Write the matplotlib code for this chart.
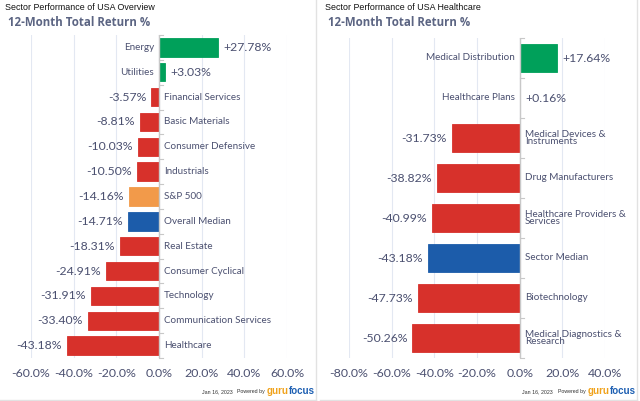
import matplotlib.pyplot as plt
from matplotlib.lines import Line2D

GREEN = "#00a05a"
RED = "#d7312b"
ORANGE = "#f29a4a"
BLUE = "#1c5caa"
TXT = "#4b5070"

usa_sectors = ["Energy", "Utilities", "Financial Services", "Basic Materials",
               "Consumer Defensive", "Industrials", "S&P 500", "Overall Median",
               "Real Estate", "Consumer Cyclical", "Technology",
               "Communication Services", "Healthcare"]
usa_returns = [27.78, 3.03, -3.57, -8.81, -10.03, -10.50, -14.16, -14.71,
               -18.31, -24.91, -31.91, -33.40, -43.18]
usa_colors = [GREEN, GREEN, RED, RED, RED, RED, ORANGE, BLUE,
              RED, RED, RED, RED, RED]
usa_ticks = [-60, -40, -20, 0, 20, 40, 60]

hc_industries = ["Medical Distribution", "Healthcare Plans",
                 "Medical Devices &\nInstruments", "Drug Manufacturers",
                 "Healthcare Providers &\nServices", "Sector Median",
                 "Biotechnology", "Medical Diagnostics &\nResearch"]
hc_returns = [17.64, 0.16, -31.73, -38.82, -40.99, -43.18, -47.73, -50.26]
hc_colors = [GREEN, GREEN, RED, RED, RED, BLUE, RED, RED]
hc_ticks = [-80, -60, -40, -20, 0, 20, 40]

plt.rcParams['font.family'] = ['Lato', 'DejaVu Sans']

fig = plt.figure(figsize=(6.4, 4.01), dpi=100)
W, H = 640, 401
SANS = ['Liberation Sans', 'DejaVu Sans']


def draw_panel(ax, names, vals, colors, ticks, bar_h, pad, fs_cat, fs_val):
    n = len(names)
    y = list(range(n))
    ax.barh(y, vals, height=bar_h, color=colors, edgecolor=colors,
            linewidth=0.6, zorder=3)
    ax.set_ylim(n - 0.5, -0.5)
    ax.set_xlim(ticks[0], ticks[-1])
    ax.set_xticks(ticks)
    ax.set_xticklabels([f"{t:.1f}%" for t in ticks], fontsize=8.9, color=TXT)
    ax.tick_params(axis='x', length=0, pad=7)
    ax.set_yticks([])
    for s in ax.spines.values():
        s.set_visible(False)
    ax.grid(axis='x', color="#e3e8f2", linewidth=0.8, zorder=0)
    ax.axvline(0, color="#c8c8c8", linewidth=1.0, zorder=4)
    # small ticks at category boundaries on the zero axis
    span = ticks[-1] - ticks[0]
    tick_len = span * 4 / 256
    for b in range(n + 1):
        ax.plot([0, tick_len], [b - 0.5, b - 0.5], color="#c8c8c8",
                linewidth=0.8, zorder=4, clip_on=False)
    off = span * pad / 256
    for i, (name, v) in enumerate(zip(names, vals)):
        sign = "+" if v >= 0 else ""
        if v >= 0:
            ax.text(-off, i, name, ha='right', va='center', fontsize=fs_cat,
                    color=TXT, linespacing=0.85, zorder=5)
            ax.text(v + off, i, f"{sign}{v:.2f}%", ha='left', va='center',
                    fontsize=fs_val, color=TXT, zorder=5)
        else:
            ax.text(off, i, name, ha='left', va='center', fontsize=fs_cat,
                    color=TXT, linespacing=0.85, zorder=5)
            ax.text(v - off, i, f"{sign}{v:.2f}%", ha='right', va='center',
                    fontsize=fs_val, color=TXT, zorder=5)


ax1 = fig.add_axes([31 / W, (H - 358) / H, 256 / W, 323 / H])
draw_panel(ax1, usa_sectors, usa_returns, usa_colors, usa_ticks,
           0.74, 5, 7.1, 8.8)

ax2 = fig.add_axes([349 / W, (H - 358) / H, 256 / W, 320 / H])
draw_panel(ax2, hc_industries, hc_returns, hc_colors, hc_ticks,
           0.72, 5, 7.1, 8.8)

# headers
for x0, title in [(5, "Sector Performance of USA Overview"),
                  (325, "Sector Performance of USA Healthcare")]:
    fig.text(x0 / W, 1 - 7 / H, title, fontsize=6.4, color="#111111",
             family=SANS, va='center')
    fig.text((x0 + 3) / W, 1 - 23 / H, "12-Month Total Return %",
             fontsize=8.3, color="#5c6583", fontweight='bold', va='center',
             family=['Open Sans', 'DejaVu Sans'])

# footers, laid out right to left
renderer = fig.canvas.get_renderer()
for xr in [315, 636]:
    x = xr
    parts = [("focus", 7.0, "#1d5fb2", 'bold', 0, 391),
             ("guru", 7.0, "#f0a21b", 'bold', 0, 391),
             ("Powered by", 3.8, "#333333", 'normal', 2, 392),
             ("Jan 16, 2023", 3.8, "#333333", 'normal', 5, 392)]
    for txt, fs, col, wt, gap, ypx in parts:
        x -= gap
        t = fig.text(x / W, 1 - ypx / H, txt, fontsize=fs, color=col,
                     fontweight=wt, ha='right', va='center', family=SANS)
        x -= t.get_window_extent(renderer).width

# panel borders
for x0, x1 in [(0, 316), (320, 637)]:
    fig.add_artist(Line2D([x1 / W, x1 / W], [1 / H, 1], color="#e2e2e2",
                          linewidth=1.0))
    fig.add_artist(Line2D([x0 / W, x1 / W], [1.5 / H, 1.5 / H],
                          color="#e2e2e2", linewidth=1.0))

fig.savefig("out.png", dpi=100, facecolor="white")
